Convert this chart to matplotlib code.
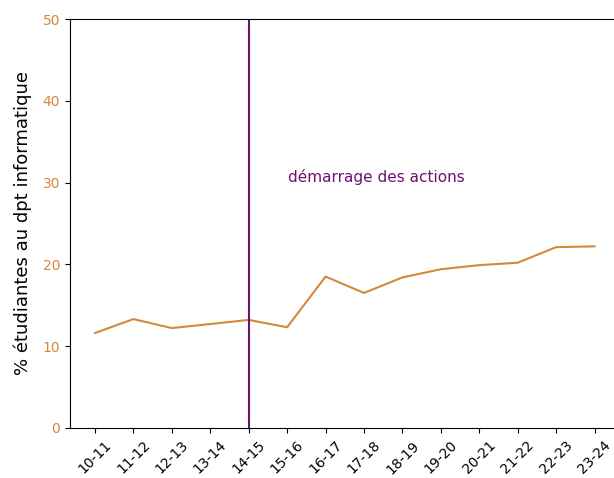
import numpy as np
import matplotlib.pyplot as plt

annees = ["10-11", "11-12", "12-13", "13-14", "14-15", "15-16", "16-17",
          "17-18", "18-19", "19-20", "20-21", "21-22", "22-23", "23-24"]
pct_etudiantes = [11.6, 13.3, 12.2, 12.7, 13.2, 12.3, 18.5,
                  16.5, 18.4, 19.4, 19.9, 20.2, 22.1, 22.2]
debut_actions = "14-15"

orange = '#d4883c'
violet = '#6e1270'

fig = plt.figure(figsize=(6.14, 4.78), dpi=100)
ax = fig.add_axes([0.114, 0.105, 0.895, 0.855])

x = np.arange(len(annees))
ax.plot(x, pct_etudiantes, color=orange, linewidth=1.5)
i0 = annees.index(debut_actions)
ax.axvline(i0, color=violet, linewidth=1.5)
ax.text(i0 + 1.03, 30.7, "démarrage des actions", color=violet,
        fontsize=11, ha='left', va='center')

ax.set_ylim(0, 50)
ax.set_xticks(x)
ax.set_xticklabels(annees, rotation=45)
ax.tick_params(axis='x', pad=4)
ax.tick_params(axis='y', labelcolor=orange)
ax.set_ylabel("% étudiantes au dpt informatique", fontsize=13, labelpad=8)

plt.savefig("out.png", dpi=100)
